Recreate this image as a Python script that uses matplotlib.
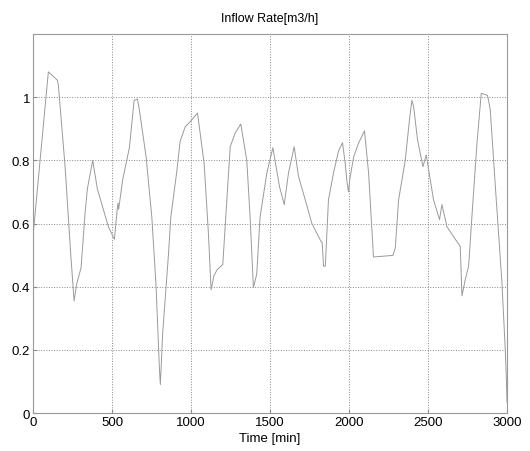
import matplotlib
matplotlib.use("Agg")
import matplotlib.pyplot as plt

plt.rcParams["font.family"] = ["Liberation Sans", "DejaVu Sans"]

# time [min] and inflow rate [m3/h]
time_min = [0, 97, 154, 160, 203, 239, 260, 277, 304, 329, 344, 378, 407, 477, 515,
            534, 538, 542, 568, 610, 640, 661, 673, 716, 752, 779, 800, 806, 821,
            857, 872, 910, 931, 963, 1005, 1041, 1083, 1110, 1127, 1146, 1167, 1201,
            1248, 1279, 1315, 1353, 1374, 1395, 1416, 1437, 1480, 1518, 1560, 1590,
            1617, 1653, 1680, 1723, 1765, 1822, 1830, 1839, 1850, 1870, 1902, 1934,
            1959, 1976, 1987, 1997, 2005, 2029, 2060, 2098, 2124, 2155, 2278, 2293,
            2314, 2356, 2383, 2398, 2409, 2434, 2468, 2489, 2504, 2535, 2573, 2588,
            2620, 2673, 2704, 2715, 2736, 2757, 2778, 2810, 2837, 2877, 2894, 2932,
            2968, 2989, 2996, 3000]
inflow = [0.56, 1.08, 1.054, 1.04, 0.78, 0.50, 0.355, 0.41, 0.46, 0.63, 0.71, 0.80,
          0.71, 0.59, 0.55, 0.65, 0.665, 0.645, 0.74, 0.84, 0.99, 0.994, 0.96, 0.81,
          0.62, 0.40, 0.14, 0.09, 0.255, 0.50, 0.62, 0.765, 0.86, 0.906, 0.928, 0.95,
          0.79, 0.57, 0.39, 0.436, 0.455, 0.47, 0.843, 0.886, 0.915, 0.80, 0.62, 0.397,
          0.44, 0.62, 0.76, 0.84, 0.717, 0.66, 0.76, 0.843, 0.75, 0.675, 0.60, 0.544,
          0.54, 0.465, 0.465, 0.675, 0.76, 0.83, 0.856, 0.79, 0.733, 0.70, 0.74, 0.81,
          0.854, 0.893, 0.76, 0.494, 0.499, 0.523, 0.675, 0.80, 0.93, 0.99, 0.97,
          0.864, 0.78, 0.817, 0.77, 0.675, 0.612, 0.66, 0.59, 0.55, 0.528, 0.371,
          0.423, 0.465, 0.623, 0.854, 1.012, 1.006, 0.96, 0.675, 0.413, 0.20, 0.108,
          0.035]

fig = plt.figure(figsize=(5.3, 4.52), dpi=100)
ax = fig.add_axes([0.0623, 0.084, 0.8943, 0.8386])

ax.plot(time_min, inflow, color="#9a9a9a", linewidth=0.7)

ax.set_xlim(0, 3000)
ax.set_ylim(0, 1.2)
ax.set_xticks([0, 500, 1000, 1500, 2000, 2500, 3000])
ax.set_yticks([0, 0.2, 0.4, 0.6, 0.8, 1])
ax.set_yticklabels(["0", "0.2", "0.4", "0.6", "0.8", "1"])
ax.grid(True, linestyle=":", color="#888888", linewidth=0.7)
ax.tick_params(direction="in", labelsize=9.5, length=3, color="#888888", pad=2)
for s in ax.spines.values():
    s.set_color("#999999")
    s.set_linewidth(0.8)

ax.set_title("Inflow Rate[m3/h]", fontsize=9, pad=9)
ax.set_xlabel("Time [min]", fontsize=9.5, labelpad=3)

fig.savefig("out.png", dpi=100)
